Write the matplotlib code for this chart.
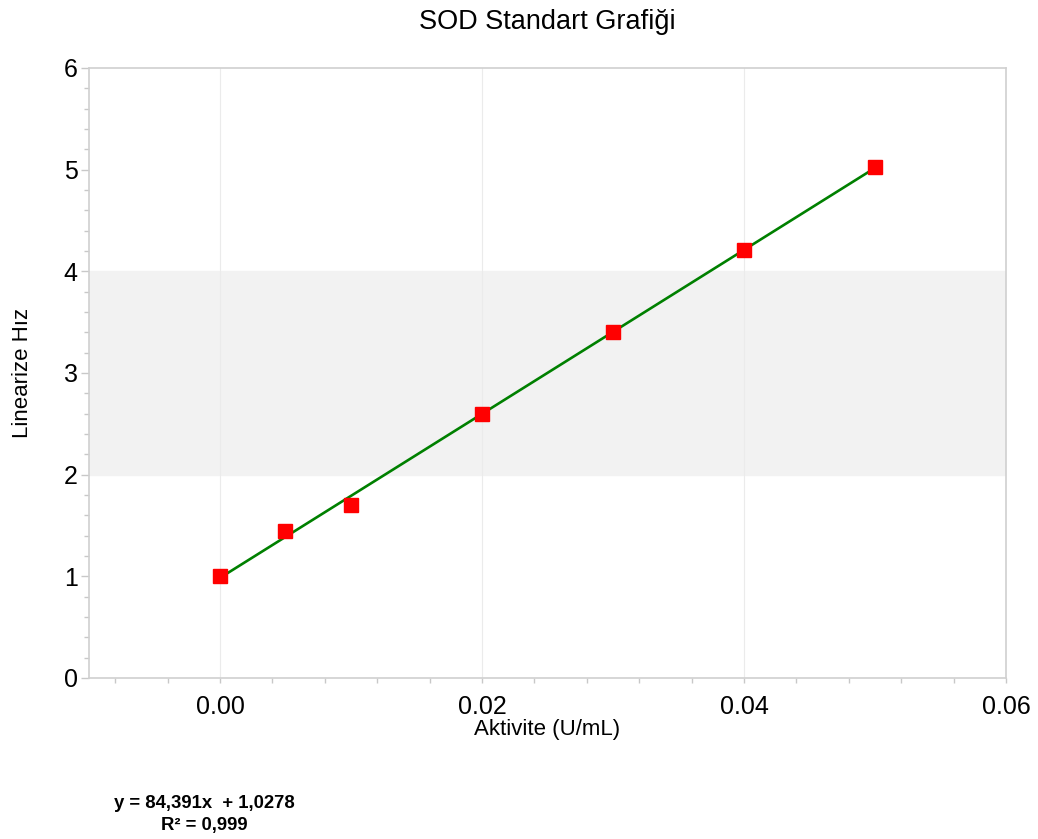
import numpy as np
import matplotlib.pyplot as plt
from matplotlib.ticker import MultipleLocator

plt.rcParams['font.family'] = ['Liberation Sans', 'DejaVu Sans']

# SOD standart ölçümleri
aktivite = [0.0, 0.005, 0.01, 0.02, 0.03, 0.04, 0.05]
hiz = [1.00, 1.45, 1.70, 2.60, 3.40, 4.21, 5.03]

# Grafik altındaki denklem metni
denklem = 'y = 84,391x  + 1,0278'
r2_metin = 'R² = 0,999'

fig = plt.figure(figsize=(10.38, 8.39), dpi=100)
ax = fig.add_axes([0.0857, 0.192, 0.8835, 0.727])

ax.axhspan(2, 4, color='#f2f2f2', zorder=0)

# doğrusal trend çizgisi (en küçük kareler)
a, b = np.polyfit(aktivite, hiz, 1)
x_fit = np.array([min(aktivite), max(aktivite)])
ax.plot(x_fit, a * x_fit + b, color='#008000', lw=1.9, zorder=2)
ax.plot(aktivite, hiz, 's', color='#ff0000', ms=9.5, zorder=3)

ax.set_xlim(-0.01, 0.06)
ax.set_ylim(0, 6)
ax.xaxis.set_minor_locator(MultipleLocator(0.004))
ax.yaxis.set_major_locator(MultipleLocator(1))
ax.yaxis.set_minor_locator(MultipleLocator(0.2))
ax.set_xticks([0.0, 0.02, 0.04, 0.06])
ax.set_xticklabels(['0.00', '0.02', '0.04', '0.06'])

ax.grid(axis='x', which='major', color='#ebebeb', lw=0.8, zorder=1)
for s in ax.spines.values():
    s.set_color('#d0d0d0')
    s.set_linewidth(1.2)
ax.tick_params(which='both', colors='#c8c8c8', width=1)
ax.tick_params(which='major', labelsize=18, labelcolor='black')
ax.tick_params(axis='y', which='major', length=6, pad=2)
ax.tick_params(axis='x', which='major', length=3.5, pad=9)
ax.tick_params(which='minor', length=3.5)

ax.set_title('SOD Standart Grafiği', fontsize=19.5, pad=28)
ax.set_xlabel('Aktivite (U/mL)', fontsize=16, labelpad=0)
ax.set_ylabel('Linearize Hız', fontsize=16, labelpad=22)

fig.text(0.197, 0.006, denklem + '\n' + r2_metin,
         ha='center', va='bottom', fontsize=13.3, fontweight='bold', linespacing=1.4)

fig.savefig('out.png', dpi=100)
